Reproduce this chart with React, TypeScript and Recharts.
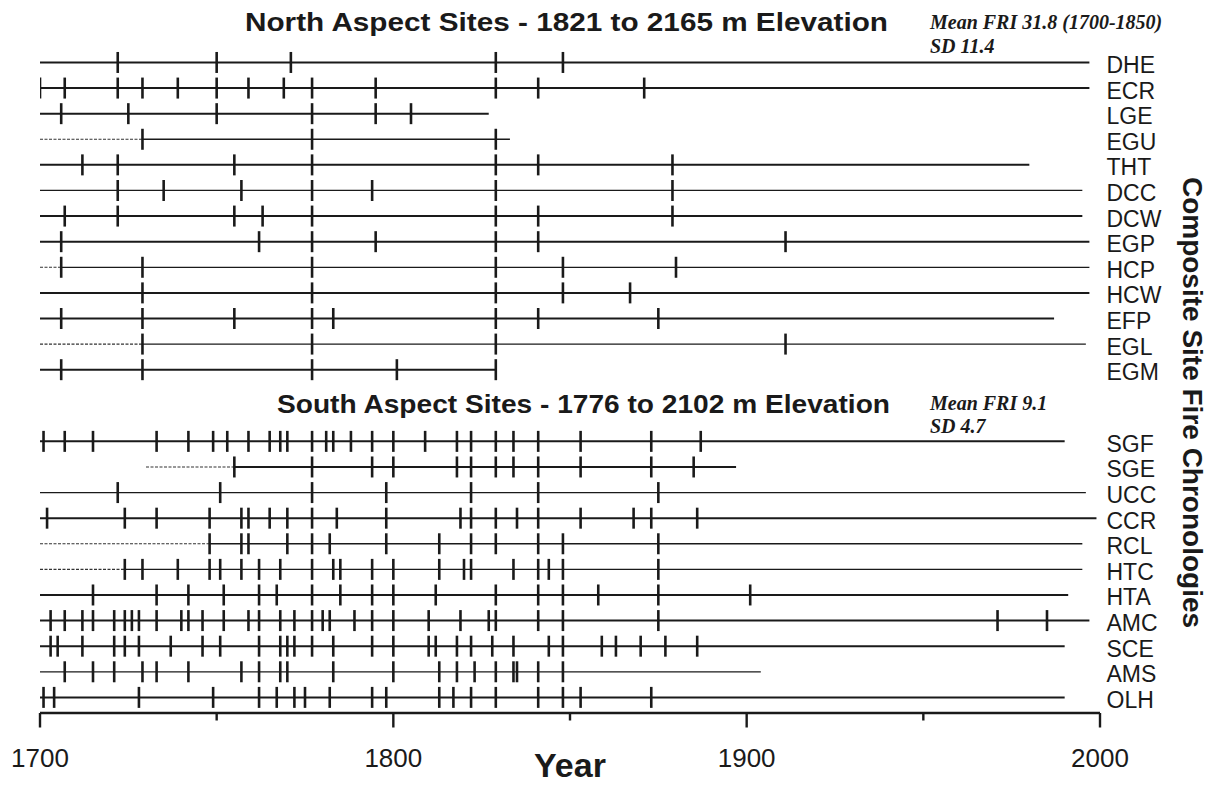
import { ScatterChart, Scatter, XAxis, YAxis, ReferenceLine } from 'recharts';

// North aspect sites (top panel)
const northSites = ['DHE', 'ECR', 'LGE', 'EGU', 'THT', 'DCC', 'DCW', 'EGP', 'HCP', 'HCW', 'EFP', 'EGL', 'EGM'];
const DHE = [1722, 1750, 1771, 1829, 1848];
const ECR = [1700, 1707, 1722, 1729, 1739, 1750, 1759, 1769, 1777, 1795, 1829, 1841, 1871];
const LGE = [1706, 1725, 1750, 1777, 1795, 1805];
const EGU = [1729, 1777, 1829];
const THT = [1712, 1722, 1755, 1777, 1829, 1841, 1879];
const DCC = [1722, 1735, 1757, 1777, 1794, 1829, 1879];
const DCW = [1707, 1722, 1755, 1763, 1777, 1829, 1841, 1879];
const EGP = [1706, 1762, 1777, 1795, 1829, 1841, 1911];
const HCP = [1706, 1729, 1777, 1829, 1848, 1880];
const HCW = [1729, 1777, 1829, 1848, 1867];
const EFP = [1706, 1729, 1755, 1777, 1783, 1829, 1841, 1875];
const EGL = [1729, 1777, 1829, 1911];
const EGM = [1706, 1729, 1777, 1801, 1829];
const northFires = [DHE, ECR, LGE, EGU, THT, DCC, DCW, EGP, HCP, HCW, EFP, EGL, EGM];
// recorder period [from, to]; earlier non-recording part is dashed
const northRecord: [number, number][] = [
  [1700, 1997], [1700, 1997], [1700, 1827], [1729, 1833], [1700, 1980], [1700, 1995], [1700, 1995],
  [1700, 1997], [1706, 1997], [1700, 1997], [1700, 1987], [1729, 1996], [1700, 1829],
];
const northDashFrom: (number | null)[] = [null, null, null, 1700, null, null, null, null, 1700, null, null, 1700, null];

// South aspect sites (bottom panel)
const southSites = ['SGF', 'SGE', 'UCC', 'CCR', 'RCL', 'HTC', 'HTA', 'AMC', 'SCE', 'AMS', 'OLH'];
const SGF = [1701, 1707, 1715, 1733, 1742, 1749, 1753, 1759, 1765, 1768, 1770, 1777, 1781, 1783, 1788, 1794, 1800, 1809, 1818, 1822, 1829, 1834, 1841, 1853, 1873, 1887];
const SGE = [1755, 1777, 1794, 1800, 1818, 1822, 1829, 1834, 1841, 1853, 1873, 1885];
const UCC = [1722, 1751, 1777, 1798, 1822, 1841, 1875];
const CCR = [1702, 1724, 1733, 1748, 1757, 1759, 1765, 1770, 1777, 1784, 1798, 1819, 1822, 1829, 1835, 1841, 1853, 1868, 1873, 1886];
const RCL = [1748, 1757, 1759, 1770, 1777, 1782, 1798, 1813, 1822, 1829, 1841, 1848, 1875];
const HTC = [1724, 1729, 1739, 1748, 1751, 1757, 1762, 1768, 1777, 1783, 1785, 1794, 1800, 1813, 1820, 1822, 1834, 1841, 1844, 1848, 1875];
const HTA = [1715, 1733, 1742, 1752, 1762, 1767, 1777, 1785, 1794, 1800, 1812, 1829, 1841, 1848, 1858, 1875, 1901];
const AMC = [1703, 1707, 1712, 1715, 1721, 1724, 1726, 1728, 1733, 1740, 1742, 1746, 1752, 1759, 1762, 1768, 1772, 1777, 1780, 1782, 1789, 1794, 1800, 1810, 1819, 1827, 1829, 1841, 1848, 1875, 1971, 1985];
const SCE = [1703, 1705, 1712, 1721, 1724, 1728, 1737, 1746, 1751, 1762, 1768, 1770, 1772, 1777, 1783, 1794, 1800, 1810, 1812, 1818, 1822, 1828, 1834, 1844, 1848, 1859, 1863, 1870, 1877, 1886];
const AMS = [1707, 1715, 1721, 1729, 1733, 1742, 1757, 1762, 1768, 1770, 1783, 1800, 1813, 1818, 1823, 1829, 1834, 1835, 1841, 1848];
const OLH = [1701, 1704, 1728, 1749, 1762, 1767, 1772, 1775, 1782, 1794, 1798, 1813, 1817, 1822, 1829, 1841, 1848, 1853, 1873];
const southFires = [SGF, SGE, UCC, CCR, RCL, HTC, HTA, AMC, SCE, AMS, OLH];
const southRecord: [number, number][] = [
  [1700, 1990], [1755, 1897], [1700, 1996], [1700, 1999], [1748, 1995], [1724, 1995],
  [1700, 1991], [1700, 1997], [1700, 1990], [1700, 1904], [1700, 1990],
];
const southDashFrom: (number | null)[] = [null, 1730, null, null, 1700, 1700, null, null, null, null, null];

const yearTicks = [1700, 1750, 1800, 1850, 1900, 1950, 2000];
const thinRows = ['EGU', 'DCC', 'HCP', 'EGL', 'UCC', 'RCL', 'HTC', 'AMS'];

const INK = '#1a1a1a';
const SANS = '"Liberation Sans", Arial, Helvetica, sans-serif';
const SERIF = '"Liberation Serif", "Times New Roman", serif';

const SOUTH_OFFSET = 14.8;
const rows = [
  ...northSites.map((name, i) => ({ name, pos: i, fires: northFires[i], record: northRecord[i], dashFrom: northDashFrom[i] })),
  ...southSites.map((name, i) => ({ name, pos: SOUTH_OFFSET + i, fires: southFires[i], record: southRecord[i], dashFrom: southDashFrom[i] })),
];
const fireEvents = rows.flatMap((r) => r.fires.map((year) => ({ year, pos: r.pos })));

const FireTick = (p: any) => (
  <line x1={p.cx} x2={p.cx} y1={p.cy - 10.5} y2={p.cy + 10.5} stroke={INK} strokeWidth={2.6} />
);

const YearTick = (p: any) => {
  const v = p.payload.value;
  const major = v % 100 === 0;
  return (
    <g>
      <line x1={p.x} x2={p.x} y1={p.y} y2={p.y + (major ? 14.5 : 7.5)} stroke={INK} strokeWidth={2.4} />
      {major && (
        <text x={p.x} y={p.y + 53.5} textAnchor="middle" fontSize={26} fontFamily={SANS} fill={INK}>
          {v}
        </text>
      )}
    </g>
  );
};

const SiteLabel = (p: any) => {
  const row = rows.find((r) => Math.abs(r.pos - p.payload.value) < 1e-6);
  return (
    <text x={p.x + 6.5} y={p.y + 10.5} fontSize={23} fontFamily={SANS} fill={INK}>
      {row ? row.name : ''}
    </text>
  );
};

export default function App() {
  return (
    <div style={{ position: 'absolute', left: 0, top: 0, width: 1215, height: 785, background: '#fff' }}>
      <ScatterChart width={1215} height={785} margin={{ top: 0, right: 0, bottom: 0, left: 40 }}>
        <XAxis
          type="number"
          dataKey="year"
          domain={[1700, 2000]}
          allowDataOverflow
          ticks={yearTicks}
          tick={<YearTick />}
          tickSize={0}
          tickMargin={0}
          tickLine={false}
          height={72}
          axisLine={{ stroke: INK, strokeWidth: 2.6 }}
        />
        <YAxis
          type="number"
          dataKey="pos"
          orientation="right"
          reversed
          domain={[-2.44, 25.41]}
          allowDataOverflow
          ticks={rows.map((r) => r.pos)}
          tick={<SiteLabel />}
          tickSize={0}
          tickMargin={0}
          tickLine={false}
          axisLine={false}
          width={115}
        />
        {rows.map((r) =>
          r.dashFrom !== null ? (
            <ReferenceLine
              key={r.name + '-dash'}
              segment={[{ x: r.dashFrom, y: r.pos }, { x: r.record[0], y: r.pos }]}
              stroke="#333"
              strokeWidth={1.1}
              strokeDasharray="3 1.5"
              ifOverflow="visible"
            />
          ) : null
        )}
        {rows.map((r) => (
          <ReferenceLine
            key={r.name}
            segment={[{ x: r.record[0], y: r.pos }, { x: r.record[1], y: r.pos }]}
            stroke={INK}
            strokeWidth={thinRows.includes(r.name) ? 1.3 : 2}
            ifOverflow="visible"
          />
        ))}
        <Scatter data={fireEvents} shape={<FireTick />} isAnimationActive={false} />
      </ScatterChart>
      <svg width={1215} height={785} style={{ position: 'absolute', left: 0, top: 0, pointerEvents: 'none' }}>
        <text x={245} y={31} fontSize={26} fontWeight="bold" fontFamily={SANS} fill={INK} textLength={643} lengthAdjust="spacingAndGlyphs">
          North Aspect Sites - 1821 to 2165 m Elevation
        </text>
        <text x={277} y={413} fontSize={26} fontWeight="bold" fontFamily={SANS} fill={INK} textLength={613} lengthAdjust="spacingAndGlyphs">
          South Aspect Sites - 1776 to 2102 m Elevation
        </text>
        <g fontFamily={SERIF} fontWeight="bold" fontStyle="italic" fontSize={20} fill={INK}>
          <text x={930} y={29}>Mean FRI 31.8 (1700-1850)</text>
          <text x={930} y={53}>SD 11.4</text>
          <text x={930} y={410}>Mean FRI 9.1</text>
          <text x={930} y={433}>SD 4.7</text>
        </g>
        <text transform="translate(1183,402.5) rotate(90)" textAnchor="middle" fontSize={28} fontWeight="bold" fontFamily={SANS} fill={INK}>
          Composite Site Fire Chronologies
        </text>
        <text x={570} y={777} textAnchor="middle" fontSize={34} fontWeight="bold" fontFamily={SANS} fill={INK}>
          Year
        </text>
      </svg>
    </div>
  );
}
